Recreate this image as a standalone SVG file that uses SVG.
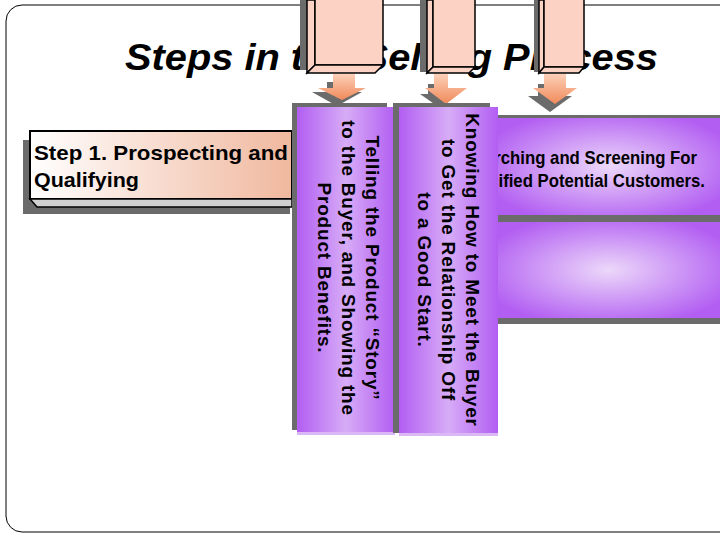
<svg xmlns="http://www.w3.org/2000/svg" width="720" height="540" viewBox="0 0 720 540">
<defs>
<radialGradient id="pg" cx="0.5" cy="0.5" r="0.6"><stop offset="0" stop-color="#ecd8fa"/><stop offset="1" stop-color="#b25ef2"/></radialGradient>
<linearGradient id="pv" x1="0" y1="0" x2="1" y2="0"><stop offset="0" stop-color="#b25ef2"/><stop offset="0.5" stop-color="#d7acf7"/><stop offset="1" stop-color="#b25ef2"/></linearGradient>
<linearGradient id="sg" x1="0" y1="0" x2="1" y2="0"><stop offset="0" stop-color="#ffffff"/><stop offset="1" stop-color="#f0b89e"/></linearGradient>
<linearGradient id="ag" x1="0" y1="0" x2="0" y2="1"><stop offset="0" stop-color="#fcd0b8"/><stop offset="1" stop-color="#f08a5a"/></linearGradient>
<style>
.t{font-family:"Liberation Sans",Arial,sans-serif;font-weight:bold;fill:#000}
.sh{fill:#6b6b6b}
.bx{fill:#fbd2c4;stroke:#000;stroke-width:1.5}
</style>
</defs>
<rect width="720" height="540" fill="#fff"/>
<rect x="6" y="5" width="740" height="527" rx="16" fill="none" stroke="#000" stroke-width="1"/>
<text class="t" x="125" y="70" font-size="36" font-style="italic" textLength="533" lengthAdjust="spacingAndGlyphs">Steps in the Selling Process</text>

<g id="step1">
<polygon class="sh" points="23,140 30,140 30,200 290,200 290,214 23,214"/>
<rect x="30" y="131" width="262" height="68" fill="url(#sg)" stroke="#000" stroke-width="2"/>
<polygon points="30,199 292,199 292,207 37,207" fill="#d0d0d0" stroke="#000" stroke-width="1.5"/>
<text class="t" font-size="21"><tspan x="34" y="160" textLength="254" lengthAdjust="spacingAndGlyphs">Step 1.  Prospecting and</tspan><tspan x="34" y="187" textLength="105" lengthAdjust="spacingAndGlyphs">Qualifying</tspan></text>
</g>

<g id="right-boxes">
<rect x="490" y="115" width="230" height="105" class="sh"/>
<rect x="497" y="118" width="223" height="97" fill="url(#pg)"/>
<rect x="490" y="218" width="230" height="106" class="sh"/>
<rect x="497" y="222" width="223" height="96" fill="url(#pg)"/>
<text class="t" font-size="18" transform="translate(697,0) scale(0.93,1)" text-anchor="end"><tspan x="0" y="164">Searching and Screening For</tspan><tspan x="8.5" y="187">Qualified Potential Customers.</tspan></text>
</g>

<g id="top-boxes">
<rect x="300" y="0" width="10" height="70" class="sh"/>
<polygon class="bx" points="307,0 315,0 315,65 307,73"/>
<rect class="bx" x="315" y="-2" width="68" height="67"/>
<polygon class="bx" points="307,73 315,65 383,65 375,73"/>
<rect x="420" y="0" width="9" height="72" class="sh"/>
<polygon class="bx" points="427,0 433,0 433,67 427,73"/>
<rect class="bx" x="433" y="-2" width="42" height="69"/>
<polygon class="bx" points="427,73 433,67 475,67 469,73"/>
<rect x="534" y="0" width="7" height="72" class="sh"/>
<polygon class="bx" points="539,0 544,0 544,67 539,73"/>
<rect class="bx" x="544" y="-2" width="40" height="69"/>
<polygon class="bx" points="539,73 544,67 584,67 579,73"/>
</g>

<g id="connectors">
<polygon class="sh" points="327,82 349,82 349,92 362,92 337,106 312,92 327,92"/>
<polygon fill="url(#ag)" points="333,74 355,74 355,88 366,88 342,100 318,88 333,88"/>
<polygon class="sh" points="428,84 442,84 442,94 458,94 440,108 420,94 428,94"/>
<polygon fill="url(#ag)" points="434,74 448,74 448,88 467,88 446,104 425,88 434,88"/>
<polygon class="sh" points="538,84 560,84 560,96 572,96 550,112 528,96 538,96"/>
<polygon fill="url(#ag)" points="544,74 566,74 566,88 577,88 555,104 533,88 544,88"/>
</g>

<g id="vbox1">
<rect x="292" y="103" width="95" height="327" class="sh"/>
<rect x="297" y="107" width="98" height="325" fill="url(#pv)"/>
<rect x="297" y="432" width="98" height="3" fill="#d9b8f5"/>
<g transform="translate(346,268) rotate(90)"><text class="t" font-size="19" letter-spacing="0.8" text-anchor="middle"><tspan x="0" y="-20">Telling the Product “Story”</tspan><tspan x="0" y="4">to the Buyer, and Showing the</tspan><tspan x="0" y="28">Product Benefits.</tspan></text></g>
</g>
<g id="vbox2">
<rect x="393" y="103" width="97" height="330" class="sh"/>
<rect x="399" y="107" width="99" height="326" fill="url(#pv)"/>
<rect x="399" y="433" width="99" height="3" fill="#d9b8f5"/>
<g transform="translate(444,270) rotate(90)"><text class="t" font-size="19" letter-spacing="0.8" text-anchor="middle"><tspan x="0" y="-22">Knowing How to Meet the Buyer</tspan><tspan x="0" y="2">to Get the Relationship Off</tspan><tspan x="0" y="26">to a Good Start.</tspan></text></g>
</g>
</svg>
